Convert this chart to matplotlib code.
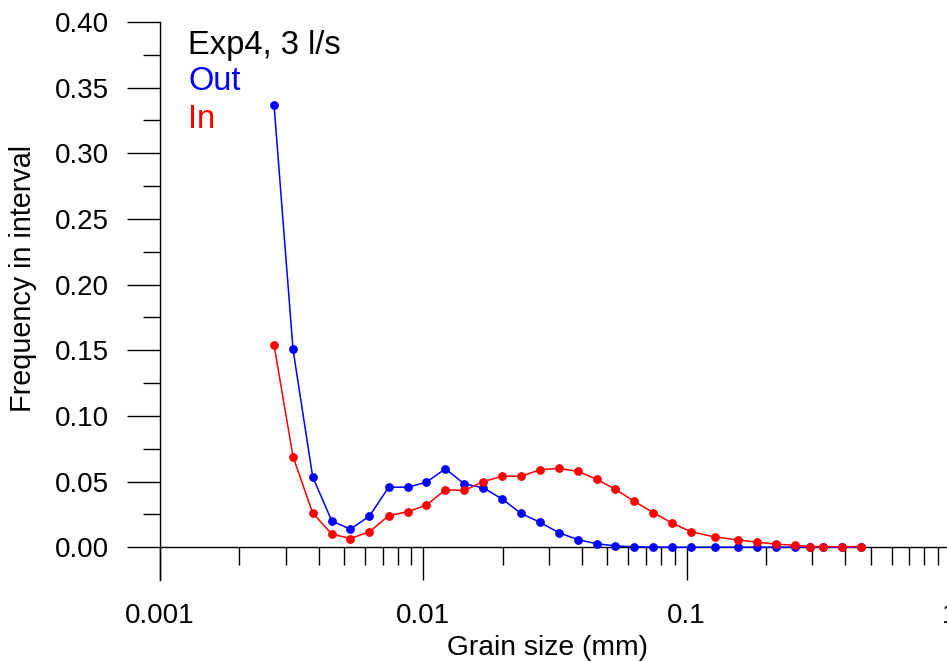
# -*- coding: utf-8 -*-
"""
Grain size distribution, Exp4 (3 l/s), inflow vs outflow sediment
"""
import matplotlib
matplotlib.use("Agg")
import matplotlib.pyplot as plt
from matplotlib.ticker import FixedLocator, FixedFormatter, NullFormatter

# grain size class centres (mm)
grain_size = [0.00271, 0.0032, 0.0038, 0.00449, 0.00528, 0.00624, 0.00739,
              0.00873, 0.01027, 0.01212, 0.01431, 0.0169, 0.01995, 0.0235,
              0.0277, 0.0328, 0.0387, 0.0456, 0.0535, 0.0631, 0.0745, 0.088,
              0.1039, 0.1279, 0.1572, 0.1851, 0.2191, 0.2588, 0.2935, 0.3304,
              0.3903, 0.461]

# frequency in interval, outflow sample
freq_out = [0.337, 0.1506, 0.0536, 0.020, 0.0137, 0.0236, 0.0457, 0.0457,
            0.0495, 0.0597, 0.0482, 0.0452, 0.0366, 0.0257, 0.019, 0.0109,
            0.0057, 0.0026, 0.0010, 0.0003, 0.0001, 0.0, 0.0, 0.0, 0.0, 0.0,
            0.0, 0.0, 0.0, 0.0, 0.0, 0.0]

# frequency in interval, inflow sample
freq_in = [0.154, 0.069, 0.026, 0.010, 0.0066, 0.0117, 0.024, 0.027, 0.032,
           0.0437, 0.0432, 0.050, 0.054, 0.054, 0.059, 0.060, 0.0577, 0.0517,
           0.0442, 0.035, 0.0264, 0.0184, 0.0117, 0.0078, 0.0055, 0.0038,
           0.0023, 0.0014, 0.0005, 0.0004, 0.0003, 0.0005]

x_major = [0.001, 0.01, 0.1, 1]
x_labels = ["0.001", "0.01", "0.1", "1"]
y_major = [0.0, 0.05, 0.10, 0.15, 0.20, 0.25, 0.30, 0.35, 0.40]
y_minor = [0.025, 0.075, 0.125, 0.175, 0.225, 0.275, 0.325, 0.375]


def plotGraph():
    plt.rcParams['font.family'] = ['Liberation Sans', 'DejaVu Sans']
    plt.rcParams['font.size'] = 20

    fig = plt.figure(figsize=(9.47, 6.61), dpi=100)
    ax = fig.add_axes([160/947, 1-580/661, 790/947, 558/661])

    ax.plot(grain_size, freq_out, color='#0000ff', lw=1.1, marker='o',
            ms=5.3, clip_on=False, zorder=3)
    ax.plot(grain_size, freq_in, color='#ff0000', lw=1.1, marker='o',
            ms=5.3, clip_on=False, zorder=4)

    ax.set_xscale('log')
    ax.set_xlim(0.001, 1)
    ax.set_ylim(-0.025, 0.40)

    # x axis sits on y=0, only left + bottom lines
    ax.spines['top'].set_visible(False)
    ax.spines['right'].set_visible(False)
    ax.spines['bottom'].set_position(('data', 0))
    for s in ('left', 'bottom'):
        ax.spines[s].set_linewidth(1.0)

    ax.xaxis.set_major_locator(FixedLocator(x_major))
    ax.xaxis.set_major_formatter(FixedFormatter(x_labels))
    minors = [m * d for d in (0.001, 0.01, 0.1) for m in range(2, 10)]
    ax.xaxis.set_minor_locator(FixedLocator(minors))
    ax.xaxis.set_minor_formatter(NullFormatter())

    ax.yaxis.set_major_locator(FixedLocator(y_major))
    ax.yaxis.set_major_formatter(FixedFormatter(["%.2f" % v for v in y_major]))
    ax.yaxis.set_minor_locator(FixedLocator(y_minor))

    ax.tick_params(axis='x', which='major', direction='out', length=24,
                   width=1.0, pad=16)
    ax.tick_params(axis='x', which='minor', direction='out', length=13,
                   width=1.0)
    ax.tick_params(axis='y', which='major', direction='out', length=24,
                   width=1.0, pad=12.5)
    ax.tick_params(axis='y', which='minor', direction='out', length=12,
                   width=1.0)

    fig.text(547/947, 1-655/661, "Grain size (mm)", ha='center',
             va='baseline', fontsize=20.3)
    fig.text(23/947, 1-278/661, "Frequency in interval", rotation=90,
             ha='center', va='center', fontsize=20.7)

    # legend-like labels
    fig.text(188/947, 1-54/661, "Exp4, 3 l/s", color='black',
             va='baseline', fontsize=23.5)
    fig.text(188/947, 1-90/661, "Out", color='#0000ff', va='baseline',
             fontsize=23.5)
    fig.text(188/947, 1-127.7/661, "In", color='#ff0000', va='baseline',
             fontsize=23.5)

    fig.savefig("out.png", dpi=100)


if __name__ == "__main__":
    plotGraph()
